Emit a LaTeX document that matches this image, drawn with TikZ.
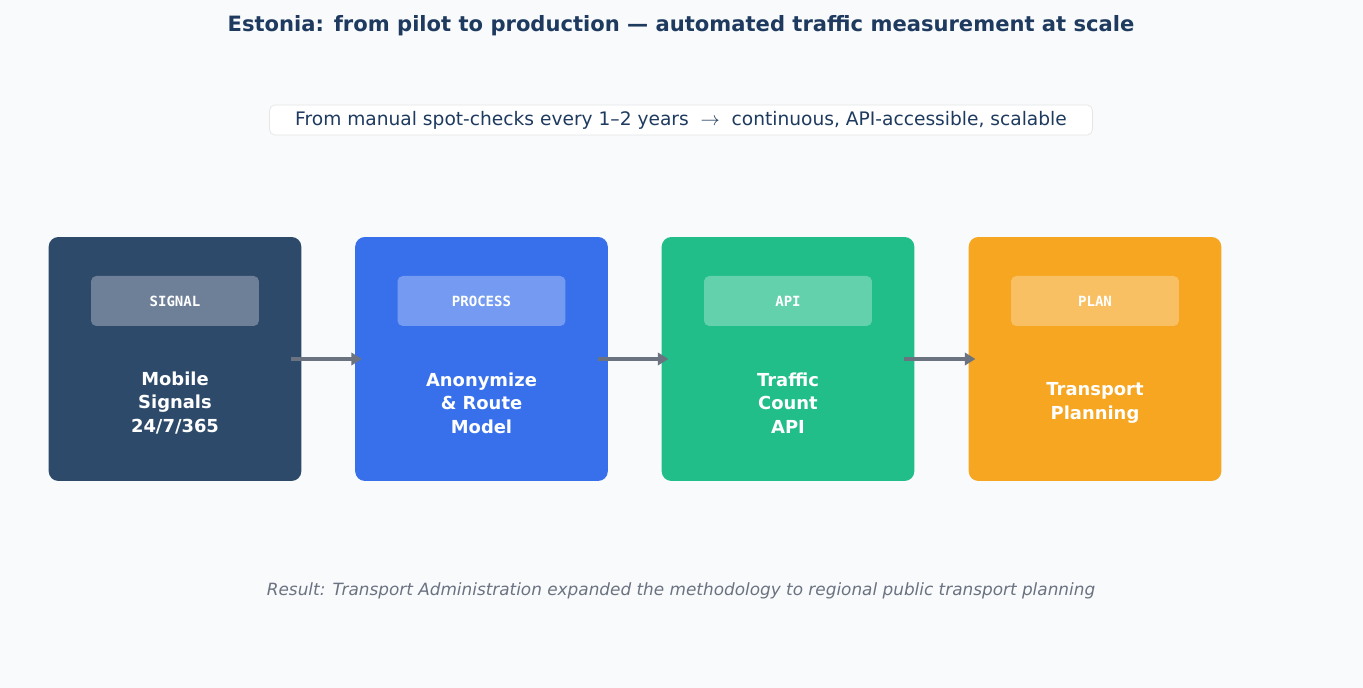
\documentclass[tikz,border=0pt]{standalone}
\usepackage{fontspec}
\setmainfont{DejaVu Sans}
\setmonofont{DejaVu Sans Mono}
\usetikzlibrary{positioning,arrows.meta}
\definecolor{bgc}{HTML}{F8FAFC}
\definecolor{titlec}{HTML}{1E3A5F}
\definecolor{grayc}{HTML}{6B7280}
\definecolor{signalc}{HTML}{2E4A6B}
\definecolor{processc}{HTML}{3870EB}
\definecolor{apic}{HTML}{22BE8A}
\definecolor{planc}{HTML}{F6A620}
\tikzset{
  stage/.style={rounded corners=5.5pt, minimum width=7.15cm*0.7067, minimum height=4.88cm, inner sep=0pt},
  tag/.style={rounded corners=3pt, fill=white, fill opacity=0.3, text opacity=1, minimum width=3.36cm, minimum height=1cm, text=white, font=\ttfamily\bfseries\fontsize{8}{9}\selectfont},
  body/.style={text=white, align=center, font=\bfseries\fontsize{10.2}{13.4}\selectfont},
  flow/.style={-{Triangle[length=6pt,width=7pt]}, line width=1.8pt, draw=grayc, shorten <=-6pt, shorten >=-4pt}
}
\begin{document}
\begin{tikzpicture}[x=0.02cm,y=-0.02cm]
  \fill[bgc] (0,0) rectangle (1363,688);
  \useasboundingbox (0,0) rectangle (1363,688);
  \node[text=titlec, font=\bfseries\fontsize{12}{14}\selectfont] (title) at (681,26) {Estonia: from pilot to production — automated traffic measurement at scale};
  \node[draw=black!10, fill=white, rounded corners=3pt, text=titlec, minimum width=16.46cm, minimum height=0.6cm, inner sep=0pt, font=\fontsize{10.6}{12}\selectfont] (sub) at (681,120) {From manual spot-checks every 1–2 years \ $\rightarrow$ \ continuous, API-accessible, scalable};
  % stages
  \foreach \n/\x/\c/\t/\b in {s1/175/signalc/SIGNAL/{Mobile\\Signals\\24/7/365},
                             s2/481.5/processc/PROCESS/{Anonymize\\\& Route\\Model},
                             s3/788/apic/API/{Traffic\\Count\\API},
                             s4/1095/planc/PLAN/{Transport\\Planning}}{
    \node[stage, fill=\c] (\n) at (\x,359) {};
    \node[tag] (\n t) at (\x,301) {\t};
    \node[body] (\n b) at (\x,403) {\b};
  }
  \draw[flow] (s1.east) -- (s2.west);
  \draw[flow] (s2.east) -- (s3.west);
  \draw[flow] (s3.east) -- (s4.west);
  \node[text=grayc, font=\itshape\fontsize{9.6}{11}\selectfont] (result) at (681,591) {Result: Transport Administration expanded the methodology to regional public transport planning};
\end{tikzpicture}
\end{document}
